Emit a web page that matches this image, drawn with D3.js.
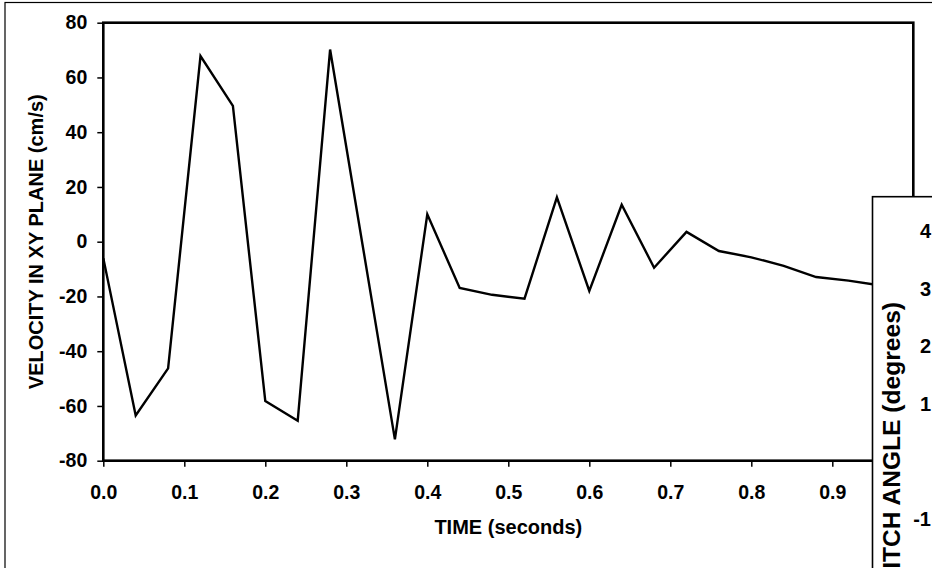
<!DOCTYPE html>
<html>
<head>
<meta charset="utf-8">
<script src="https://cdn.jsdelivr.net/npm/d3@7"></script>
<style>
  body { margin: 0; background: #fff; }
  text { font-family: "Liberation Sans", Arial, sans-serif; font-weight: bold; fill: #000; }
</style>
</head>
<body>
<div id="chart"></div>
<script>
// time (s) and velocity (cm/s)
let timeSec  = [0.00, 0.04, 0.08, 0.12, 0.16, 0.20, 0.24, 0.28, 0.32, 0.36, 0.40, 0.44, 0.48,
                0.52, 0.56, 0.60, 0.64, 0.68, 0.72, 0.76, 0.80, 0.84, 0.88, 0.92, 0.96];
let velocity = [-6, -63.5, -46.3, 67.8, 49.6, -58.2, -65.4, 70.2, -1, -72.2, 10, -16.9, -19.4,
                -20.8, 16.2, -18, 13.5, -9.5, 3.6, -3.4, -5.7, -8.8, -12.9, -14.2, -16];
let xTicks = [0, 0.1, 0.2, 0.3, 0.4, 0.5, 0.6, 0.7, 0.8, 0.9];
let yTicks = [-80, -60, -40, -20, 0, 20, 40, 60, 80];
// second chart, only partly visible on the right
let pitchTicks = [4, 3, 2, 1, -1, -2];

let width = 932, height = 568;
let plot = {left: 103.3, top: 22.7, right: 913.3, bottom: 460.7};

// plain hyphen for negatives, like the original
let hyphen = function(f){ return function(d){ return f(d).replace("\u2212", "-"); }; };

let svg = d3.select("#chart")
            .append("svg")
            .attr("width", width)
            .attr("height", height);

// outer chart frame
svg.append("rect")
    .attr("x", 5).attr("y", 2.5)
    .attr("width", 940).attr("height", 580)
    .attr("fill", "#fff")
    .attr("stroke", "#000")
    .attr("stroke-width", 1.2);

let x = d3.scaleLinear().domain([0, 1]).range([plot.left, plot.right]);
let y = d3.scaleLinear().domain([-80, 80]).range([plot.bottom, plot.top]);

// axes
let xAxis = svg.append("g")
    .attr("transform", "translate(0," + plot.bottom + ")")
    .call(d3.axisBottom(x).tickValues(xTicks).tickFormat(d3.format(".1f")).tickSize(6).tickSizeOuter(0).tickPadding(8));
let yAxis = svg.append("g")
    .attr("transform", "translate(" + plot.left + ",0)")
    .call(d3.axisLeft(y).tickValues(yTicks).tickFormat(hyphen(d3.format("d"))).tickSize(6).tickSizeOuter(0).tickPadding(10));

[xAxis, yAxis].forEach(function(a){
  a.selectAll("text").style("font-size", "19.5px").attr("font-family", null);
  a.selectAll(".tick line").attr("stroke", "#000").attr("stroke-width", 1.5);
  a.select(".domain").remove();
});
xAxis.selectAll("text").attr("dy", "1.26em");

// plot frame
svg.append("rect")
    .attr("x", plot.left).attr("y", plot.top)
    .attr("width", plot.right - plot.left)
    .attr("height", plot.bottom - plot.top)
    .attr("fill", "none")
    .attr("stroke", "#000")
    .attr("stroke-width", 2.6);

// the line
let line = d3.line()
    .x(function(d, i){ return x(timeSec[i]); })
    .y(function(d){ return y(d); });

svg.append("path")
    .datum(velocity)
    .attr("d", line)
    .attr("fill", "none")
    .attr("stroke", "#000")
    .attr("stroke-width", 2.4)
    .attr("stroke-linejoin", "miter");

// axis titles
svg.append("text")
    .attr("x", x(0.5)).attr("y", 534)
    .attr("text-anchor", "middle")
    .style("font-size", "20px")
    .text("TIME (seconds)");

svg.append("text")
    .attr("transform", "translate(43," + y(0) + ") rotate(-90)")
    .attr("text-anchor", "middle")
    .style("font-size", "20px")
    .text("VELOCITY IN XY PLANE (cm/s)");

// overlapping pitch angle chart
let pitch = d3.scaleLinear().domain([-2, 4]).range([576, 231]);

svg.append("rect")
    .attr("x", 872.5).attr("y", 196.7)
    .attr("width", 100).attr("height", 400)
    .attr("fill", "#fff")
    .attr("stroke", "#000")
    .attr("stroke-width", 1.6);

svg.selectAll(".pitchLabel")
    .data(pitchTicks)
    .enter()
    .append("text")
    .attr("class", "pitchLabel")
    .attr("x", 931)
    .attr("y", function(d){ return pitch(d); })
    .attr("dy", "0.36em")
    .attr("text-anchor", "end")
    .style("font-size", "20px")
    .text(function(d){ return d < 0 ? "-" + Math.abs(d) : d; });

svg.append("text")
    .attr("transform", "translate(900,302) rotate(-90) scale(1.07,1)")
    .attr("text-anchor", "end")
    .style("font-size", "23px")
    .text("PITCH ANGLE (degrees)");
</script>
</body>
</html>
